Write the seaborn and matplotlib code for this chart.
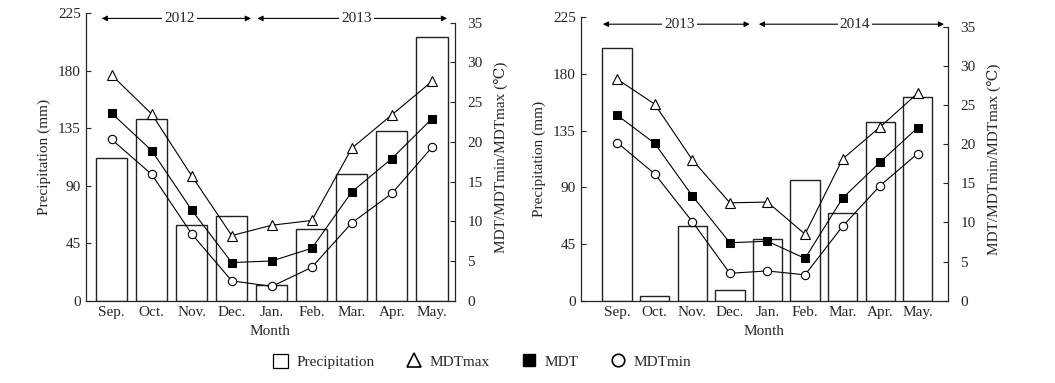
import numpy as np
import matplotlib
matplotlib.use('Agg')
import matplotlib.pyplot as plt
import seaborn as sns
from matplotlib.lines import Line2D
from matplotlib.patches import Patch

sns.set_style('ticks')
plt.rcParams['font.family'] = ['Liberation Serif', 'DejaVu Serif']
plt.rcParams['font.size'] = 11

# 月份
months = ['Sep.', 'Oct.', 'Nov.', 'Dec.', 'Jan.', 'Feb.', 'Mar.', 'Apr.', 'May.']

# 2012-2013
precip_1 = [112, 142.5, 59, 66, 12, 56, 99, 133, 206.5]
tmax_1 = [28.4, 23.5, 15.7, 8.2, 9.5, 10.1, 19.2, 23.4, 27.6]
tmean_1 = [23.6, 18.9, 11.4, 4.8, 5.0, 6.6, 13.7, 17.9, 22.9]
tmin_1 = [20.3, 15.9, 8.4, 2.5, 1.8, 4.2, 9.8, 13.5, 19.3]
years_1 = ['2012', '2013']

# 2013-2014
precip_2 = [201, 3.7, 59, 8.5, 49, 95.5, 69.5, 141.5, 162]
tmax_2 = [28.3, 25.1, 18.0, 12.5, 12.6, 8.5, 18.1, 22.2, 26.5]
tmean_2 = [23.7, 20.1, 13.4, 7.4, 7.6, 5.4, 13.1, 17.7, 22.1]
tmin_2 = [20.2, 16.2, 10.1, 3.5, 3.8, 3.3, 9.5, 14.7, 18.8]
years_2 = ['2013', '2014']

fig = plt.figure(figsize=(10.55, 3.83), dpi=100)
ax_l = fig.add_axes([0.0812, 0.2149, 0.350, 0.7504])
ax_r = fig.add_axes([0.5504, 0.2149, 0.3480, 0.7400])


def draw_panel(ax, precip, tmax, tmean, tmin, years, xlim, t_top, arrows, text_x, arrow_y):
    sns.barplot(x=months, y=precip, color='white', edgecolor='#222222', linewidth=1,
                width=0.78, saturation=1, ax=ax)
    ax.set_xlim(*xlim)
    ax.set_ylim(0, 225)
    ax.set_yticks(np.arange(0, 226, 45))
    ax.set_ylabel('Precipitation (mm)', labelpad=5)
    ax.set_xlabel('Month', labelpad=5)
    ax.spines['top'].set_visible(False)
    ax.spines['right'].set_visible(False)
    ax.tick_params(direction='in', length=3.5, width=0.8)
    for s in ['left', 'bottom']:
        ax.spines[s].set_linewidth(0.9)

    ax2 = ax.twinx()
    xs = np.arange(len(months))
    sns.lineplot(x=xs, y=tmax, color='black', lw=0.8, marker='^', ms=7,
                 mfc='white', mec='black', mew=0.8, ax=ax2)
    sns.lineplot(x=xs, y=tmean, color='black', lw=0.8, marker='s', ms=5.5,
                 mfc='black', mec='black', ax=ax2)
    sns.lineplot(x=xs, y=tmin, color='black', lw=0.8, marker='o', ms=6,
                 mfc='white', mec='black', mew=0.8, ax=ax2)
    ax2.set_ylim(0, t_top)
    ax2.set_yticks(np.arange(0, 36, 5))
    ax2.spines['right'].set_bounds(0, 35)
    ax2.spines['right'].set_linewidth(0.9)
    for s in ['top', 'left', 'bottom']:
        ax2.spines[s].set_visible(False)
    ax2.tick_params(direction='in', length=3.5, width=0.8, pad=9)
    ax2.set_ylabel('MDT/MDTmin/MDTmax (℃)', labelpad=8)

    # 年份箭头
    for (x0, x1), tx, label in zip(arrows, text_x, years):
        ax.annotate('', xy=(x0, arrow_y), xytext=(x1, arrow_y),
                    arrowprops=dict(arrowstyle='<|-|>', color='black', lw=0.8,
                                    mutation_scale=8, shrinkA=0, shrinkB=0))
        ax.text(tx, arrow_y, label, ha='center', va='center',
                bbox=dict(facecolor='white', edgecolor='none', pad=1.5))


draw_panel(ax_l, precip_1, tmax_1, tmean_1, tmin_1, years_1,
           (-0.65, 8.575), 36.18, [(-0.25, 3.48), (3.64, 8.38)], [1.69, 6.11], 221)
draw_panel(ax_r, precip_2, tmax_2, tmean_2, tmin_2, years_2,
           (-0.97, 8.8), 36.2, [(-0.38, 3.53), (3.77, 8.7)], [1.67, 6.33], 219.5)

handles = [
    Patch(facecolor='white', edgecolor='black', linewidth=0.9),
    Line2D([], [], ls='none', marker='^', ms=10, mfc='white', mec='black', mew=1.2),
    Line2D([], [], ls='none', marker='s', ms=9, mfc='black', mec='black'),
    Line2D([], [], ls='none', marker='o', ms=9, mfc='white', mec='black', mew=1.2),
]
labels = ['Precipitation', 'MDTmax', 'MDT', 'MDTmin']
fig.legend(handles, labels, loc='center', bbox_to_anchor=(0.457, 0.055), ncol=4,
           frameon=False, columnspacing=2.1, handletextpad=0.5, handlelength=1.0,
           handleheight=1.0, fontsize=11)

fig.savefig('out.png', dpi=100)
